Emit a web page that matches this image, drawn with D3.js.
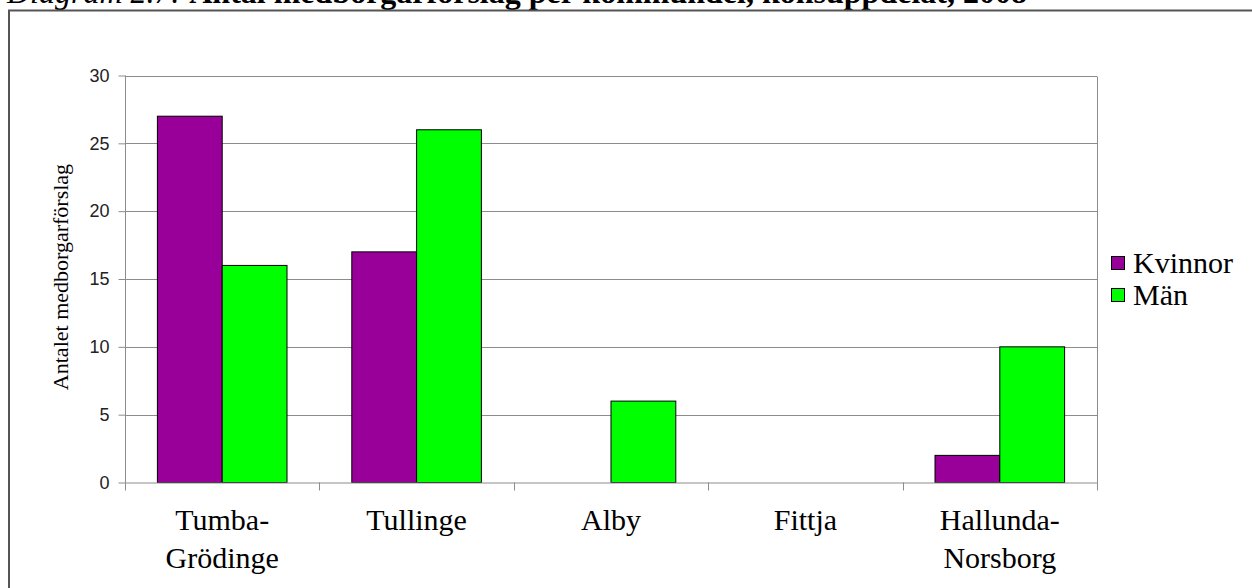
<!DOCTYPE html>
<html>
<head>
<meta charset="utf-8">
<script src="https://cdn.jsdelivr.net/npm/d3@7"></script>
<style>
  html, body { margin: 0; padding: 0; background: #fff; }
  svg { display: block; }
</style>
</head>
<body>
<svg id="chart" width="1252" height="588"></svg>
<script>
// ---- Data ----
const titleItalic = "Diagram 2.7:";
const titleBold = "Antal medborgarförslag per kommundel, könsuppdelat, 2008";
const categories = ["Tumba-\nGrödinge", "Tullinge", "Alby", "Fittja", "Hallunda-\nNorsborg"];
const seriesNames = ["Kvinnor", "Män"];
const kvinnor = [27, 17, 0, 0, 2];
const man = [16, 26, 6, 0, 10];
const yTicks = [0, 5, 10, 15, 20, 25, 30];
const yTitle = "Antalet medborgarförslag";
const colors = ["#990099", "#00ff00"];

const seriesValues = [kvinnor, man];
const rows = categories.map((c, i) => ({ cat: c, vals: seriesNames.map((s, j) => ({ s, v: seriesValues[j][i], c: colors[j] })) }));

const svg = d3.select("#chart");
const serif = "'Liberation Serif', 'Times New Roman', serif";
const sans = "'Liberation Sans', Arial, sans-serif";

// Title (mostly clipped at the top, as in the reference)
const t = svg.append("text").attr("x", 7).attr("y", 3)
  .attr("font-family", serif).attr("font-size", 32).attr("fill", "#000");
t.append("tspan").attr("font-style", "italic").text(titleItalic + " ");
t.append("tspan").attr("font-weight", "bold").text(titleBold);

// Outer frame
svg.append("rect").attr("x", 9).attr("y", 10.5).attr("width", 1260).attr("height", 600)
  .attr("fill", "none").attr("stroke", "#555").attr("stroke-width", 2);

// Scales
const plotL = 125, plotR = 1097, plotT = 75.5, plotB = 482.5;
const x = d3.scaleBand().domain(categories).range([plotL, plotR]).paddingInner(1/3).paddingOuter(1/6);
const xs = d3.scaleBand().domain(seriesNames).range([0, x.bandwidth()]);
const y = d3.scaleLinear().domain([0, 30]).range([plotB, plotT]);

// Gridlines
svg.append("g").selectAll("line").data(yTicks.filter(d => d > 0)).join("line")
  .attr("x1", plotL).attr("x2", plotR)
  .attr("y1", d => Math.round(y(d)) + 0.5).attr("y2", d => Math.round(y(d)) + 0.5)
  .attr("stroke", "#8c8c8c").attr("stroke-width", 1);
// right border of plot
svg.append("line").attr("x1", plotR + 0.5).attr("x2", plotR + 0.5)
  .attr("y1", Math.round(y(30)) + 0.5).attr("y2", plotB)
  .attr("stroke", "#8c8c8c");

// Bars
const g = svg.append("g").selectAll("g").data(rows).join("g")
  .attr("transform", d => `translate(${x(d.cat)},0)`);
g.selectAll("rect").data(d => d.vals.filter(v => v.v > 0)).join("rect")
  .attr("x", d => xs(d.s))
  .attr("width", xs.bandwidth())
  .attr("y", d => y(d.v))
  .attr("height", d => y(0) - y(d.v))
  .attr("fill", d => d.c)
  .attr("stroke", "#000").attr("stroke-width", 1);

// Y axis
const yAxis = d3.axisLeft(y).tickValues(yTicks).tickSize(7).tickPadding(9);
const ya = svg.append("g").attr("transform", `translate(${plotL + 0.5},0)`).call(yAxis);
ya.select(".domain").attr("stroke", "#8c8c8c").attr("d", `M0,${plotT}V${plotB}`);
ya.selectAll(".tick line").attr("stroke", "#8c8c8c");
ya.selectAll(".tick text").attr("font-family", sans).attr("font-size", 18).attr("fill", "#222");

// X axis
const boundaries = d3.range(categories.length + 1).map(i => plotL + i * x.step());
svg.append("line").attr("x1", plotL).attr("x2", plotR + 1)
  .attr("y1", plotB + 0.5).attr("y2", plotB + 0.5).attr("stroke", "#8c8c8c");
svg.append("g").selectAll("line").data(boundaries).join("line")
  .attr("x1", d => Math.round(d) + 0.5).attr("x2", d => Math.round(d) + 0.5)
  .attr("y1", plotB).attr("y2", plotB + 8).attr("stroke", "#8c8c8c");

const xl = svg.append("g").selectAll("text").data(categories).join("text")
  .attr("x", d => x(d) + x.bandwidth() / 2)
  .attr("y", 530)
  .attr("text-anchor", "middle")
  .attr("font-family", serif).attr("font-size", 30).attr("fill", "#000");
xl.each(function(d) {
  const lines = d.split("\n");
  d3.select(this).selectAll("tspan").data(lines).join("tspan")
    .attr("x", x(d) + x.bandwidth() / 2)
    .attr("dy", (l, i) => i === 0 ? 0 : 38)
    .text(l => l);
});

// Y title
svg.append("text").attr("transform", "translate(68,277) rotate(-90)")
  .attr("text-anchor", "middle").attr("font-family", serif).attr("font-size", 22)
  .attr("fill", "#000").text(yTitle);

// Legend
const lg = svg.append("g").selectAll("g").data(seriesNames).join("g")
  .attr("transform", (d, i) => `translate(1111,${273 + i * 32})`);
lg.append("rect").attr("x", 0.5).attr("y", -16.5).attr("width", 13).attr("height", 13)
  .attr("fill", (d, i) => colors[i]).attr("stroke", "#000");
lg.append("text").attr("x", 22).attr("y", 0)
  .attr("font-family", serif).attr("font-size", 30).attr("fill", "#000").text(d => d);
</script>
</body>
</html>
